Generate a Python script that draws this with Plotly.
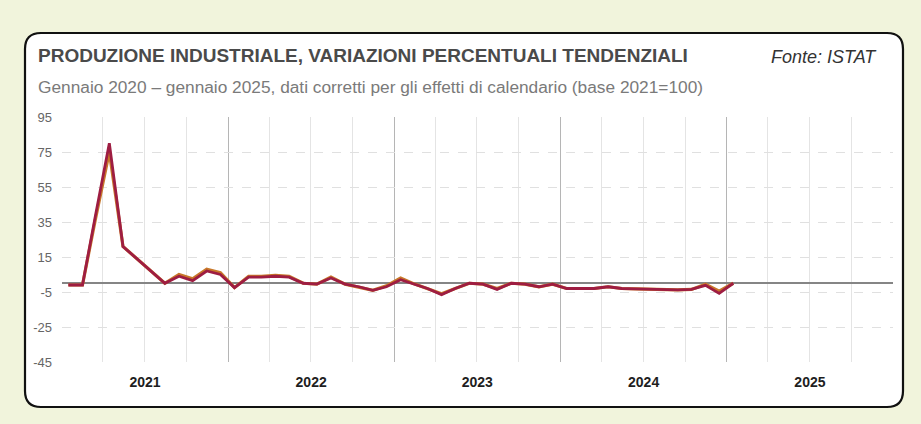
import pandas as pd
import plotly.graph_objects as go

# mesi gen 2021 - gen 2025 (valore mensile posto a meta' mese)
mesi = pd.date_range("2021-01-01", "2025-01-01", freq="MS") + pd.Timedelta(days=14)

# variazioni tendenziali (%)
var_rossa = [
    -1, -1, 38, 80, 21, 14, 7, 0, 4, 1.5, 7, 5,          # 2021
    -2.5, 3.5, 3.5, 4, 3.5, 0, -0.5, 3, -0.5, -2, -4, -2,  # 2022
    2, -0.5, -3, -6.5, -3, 0, -0.5, -3.5, 0, -0.5, -2, -0.5,  # 2023
    -3, -3, -3, -2, -3, -3.2, -3.5, -3.5, -3.8, -3.5, -1.2, -5.8,  # 2024
    0,                                                     # 2025
]
var_arancio = [
    -1, -1, 36, 75, 21, 14, 7, 0, 5, 2.5, 8, 6,
    -2.5, 4, 4, 4.5, 4, 0, -0.5, 3.5, -0.5, -2, -4, -1.5,
    3, -0.5, -3, -6, -3, 0, -0.5, -3, 0, -0.5, -2, -0.5,
    -3, -3, -3, -2, -3, -3.2, -3.5, -3.5, -3.8, -3.5, -0.5, -4.5,
    0,
]

y_ticks = [-45, -25, -5, 15, 35, 55, 75, 95]
y_labels = ["-45", "-25", "-5", "15", "35", "55", "75", "95"]

titolo = "PRODUZIONE INDUSTRIALE, VARIAZIONI PERCENTUALI TENDENZIALI"
sottotitolo = "Gennaio 2020 – gennaio 2025, dati corretti per gli effetti di calendario (base 2021=100)"
fonte = "Fonte: ISTAT"

W, H = 921, 424
L, R, T, B = 62, 893, 117, 362  # area del grafico in pixel


def px_x(p):
    return (p - L) / (R - L)


def px_y(p):
    return (B - p) / (B - T)


def rounded_box(x0, y0, x1, y1, r):
    # rettangolo arrotondato in coordinate paper
    rx, ry = r / (R - L), r / (B - T)
    a, b, c, d = px_x(x0), px_y(y1), px_x(x1), px_y(y0)
    return (f"M {a + rx},{d} L {c - rx},{d} Q {c},{d} {c},{d - ry} "
            f"L {c},{b + ry} Q {c},{b} {c - rx},{b} "
            f"L {a + rx},{b} Q {a},{b} {a},{b + ry} "
            f"L {a},{d - ry} Q {a},{d} {a + rx},{d} Z")


fig = go.Figure()
fig.add_trace(go.Scatter(x=mesi, y=var_arancio, mode="lines",
                         line=dict(color="#c8782a", width=3.2), hoverinfo="skip"))
fig.add_trace(go.Scatter(x=mesi, y=var_rossa, mode="lines",
                         line=dict(color="#9e1d42", width=2.8)))

fig.add_shape(type="path", xref="paper", yref="paper", layer="below",
              path=rounded_box(25, 33, 903, 407, 16),
              fillcolor="white", line=dict(color="#111111", width=2.2))

fig.add_annotation(x=px_x(36), y=px_y(55), xref="paper", yref="paper",
                   xanchor="left", yanchor="middle", showarrow=False,
                   text="<b>" + titolo + "</b>",
                   font=dict(family="Liberation Sans", size=19, color="#4a4a4a"))
fig.add_annotation(x=px_x(36), y=px_y(87), xref="paper", yref="paper",
                   xanchor="left", yanchor="middle", showarrow=False,
                   text=sottotitolo,
                   font=dict(family="Liberation Sans", size=17.3, color="#7a7a7a"))
fig.add_annotation(x=px_x(879), y=px_y(57), xref="paper", yref="paper",
                   xanchor="right", yanchor="middle", showarrow=False,
                   text="<i>" + fonte + "</i>",
                   font=dict(family="Liberation Sans", size=18, color="#333333"))

fig.update_xaxes(
    range=["2021-01-01", "2026-01-01"],
    tick0="2021-01-01", dtick="M12", tickformat="%Y", ticklabelmode="period",
    showgrid=True, gridcolor="#b5b5b5", gridwidth=1,
    minor=dict(dtick="M3", showgrid=True, gridcolor="#e4e4e4", gridwidth=1),
    ticks="", showline=False, zeroline=False, ticklabelstandoff=10,
    tickfont=dict(family="Liberation Sans", size=14, color="#1e1e1e", weight="bold"),
)
fig.update_yaxes(
    range=[-45, 95], tickvals=y_ticks, ticktext=y_labels,
    showgrid=True, gridcolor="#e0e0e0", gridwidth=1, griddash="dash",
    zeroline=True, zerolinecolor="#858585", zerolinewidth=2.4,
    ticks="", showline=False, ticklabelstandoff=9,
    tickfont=dict(family="Liberation Sans Narrow, Liberation Sans", size=13, color="#666666"),
)
fig.update_layout(
    width=W, height=H, showlegend=False,
    margin=dict(l=L, r=W - R, t=T, b=H - B),
    paper_bgcolor="#f1f4dc", plot_bgcolor="rgba(0,0,0,0)",
)

# niente margine della pagina, cosi' il grafico parte da 0,0
fig.write_html("out.html", config={"displayModeBar": False},
               post_script="document.body.style.margin='0';")
